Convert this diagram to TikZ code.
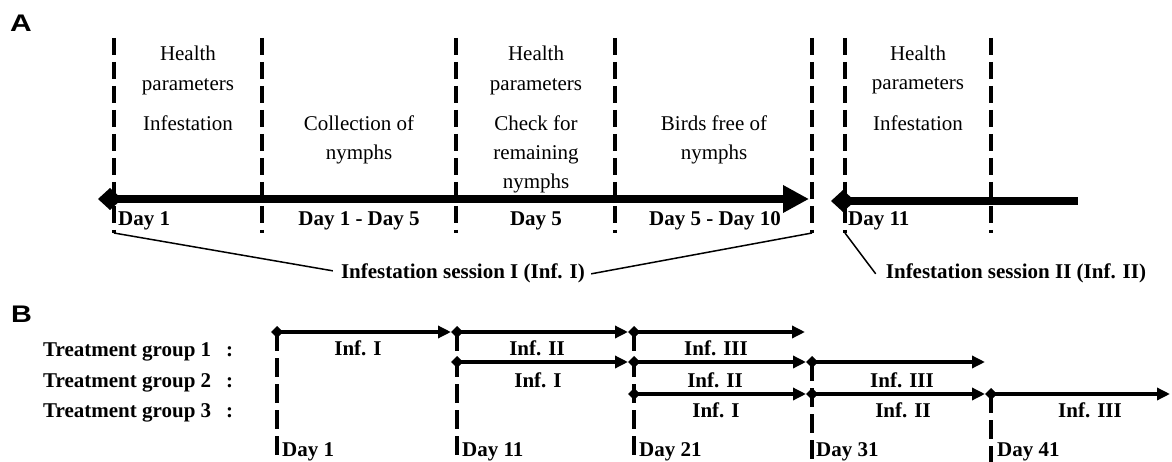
\documentclass[tikz,border=0pt]{standalone}
\usepackage{fontspec}
\setmainfont{Liberation Serif}
\newfontfamily\hvfont{Liberation Sans}
\usetikzlibrary{arrows.meta}
\begin{document}
\begin{tikzpicture}[x=1pt,y=-1pt,
  tx/.style={font=\fontsize{21}{25}\selectfont, inner sep=0pt, anchor=base},
  bt/.style={font=\fontsize{21}{25}\selectfont\bfseries, inner sep=0pt, anchor=base},
  btl/.style={bt, anchor=base west},
  panel/.style={font=\hvfont\bfseries\fontsize{24}{28}\selectfont, inner sep=0pt, anchor=base west},
  dashA/.style={line width=4pt, dash pattern=on 17pt off 7pt},
  dashB/.style={line width=4pt, dash pattern=on 19pt off 7pt},
  bigarrow/.style={line width=8pt, {Diamond[length=24pt,width=22pt]}-{Triangle[length=26pt,width=26pt]}},
  bigline/.style={line width=8pt, {Diamond[length=24pt,width=22pt]}-},
  barrow/.style={line width=3.5pt, {Diamond[length=12pt,width=12pt]}-{Triangle[length=13pt,width=12pt]}},
  thin/.style={line width=1.5pt}
]
\useasboundingbox (0,0) rectangle (1172,462);

% ---------------- Panel A ----------------
\node[panel] (labA) at (10,32) {\scalebox{1.25}[1]{A}};

% dashed separators
\foreach \n/\x in {1/114,2/262,3/456,4/615,5/812,6/845,7/991}{
  \coordinate (t\n) at (\x,38);
  \coordinate (b\n) at (\x,233);
  \draw[dashA] (t\n) -- (b\n);
}

% thick arrows
\coordinate (a1s) at (98,199);
\coordinate (a1e) at (809,199);
\draw[bigarrow] (a1s) -- (a1e);
\coordinate (a2s) at (831,201);
\coordinate (a2e) at (1078,201);
\draw[bigline] (a2s) -- (a2e);

% column texts
\node[tx] (c1a) at (188,61) {Health};
\node[tx] (c1b) at (188,91) {parameters};
\node[tx] (c1c) at (188,131) {Infestation};

\node[tx] (c2a) at (359,131) {Collection of};
\node[tx] (c2b) at (359,160) {nymphs};

\node[tx] (c3a) at (536,61) {Health};
\node[tx] (c3b) at (536,91) {parameters};
\node[tx] (c3c) at (536,131) {Check for};
\node[tx] (c3d) at (536,160) {remaining};
\node[tx] (c3e) at (536,189) {nymphs};

\node[tx] (c4a) at (714,131) {Birds free of};
\node[tx] (c4b) at (714,160) {nymphs};

\node[tx] (c6a) at (918,61) {Health};
\node[tx] (c6b) at (918,90) {parameters};
\node[tx] (c6c) at (918,131) {Infestation};

% day labels
\node[btl] (dA1) at (118,226) {Day 1};
\node[bt] (dA2) at (359,226) {Day 1 - Day 5};
\node[bt] (dA3) at (536,226) {Day 5};
\node[bt] (dA4) at (715,226) {Day 5 - Day 10};
\node[btl] (dA5) at (848,226) {Day 11};

% sessions
\node[bt] (s1) at (463,279) {Infestation session I (Inf. I)};
\node[bt] (s2) at (1016,279) {Infestation session II (Inf. II)};
\draw[thin] (b1) -- ([shift={(-8,-3)}]s1.west);
\draw[thin] ([xshift=6pt]s1.east) -- (b5);
\draw[thin] (b6) -- ([xshift=-10pt]s2.west);

% ---------------- Panel B ----------------
\node[panel] (labB) at (11,322) {\scalebox{1.2}[1]{B}};

\node[btl] (g1) at (43,356) {Treatment group 1\hspace*{15pt}:};
\node[btl] (g2) at (43,387) {Treatment group 2\hspace*{15pt}:};
\node[btl] (g3) at (43,417) {Treatment group 3\hspace*{15pt}:};

% dashed day lines
\coordinate (v1t) at (277,332); \coordinate (v1b) at (277,462);
\coordinate (v2t) at (457,332); \coordinate (v2b) at (457,462);
\coordinate (v3t) at (634,332); \coordinate (v3b) at (634,462);
\coordinate (v4t) at (812,362); \coordinate (v4b) at (812,462);
\coordinate (v5t) at (991,394); \coordinate (v5b) at (991,462);
\foreach \n in {1,...,5}{\draw[dashB] (v\n t) -- (v\n b);}

% arrow points
\coordinate (p11) at (271,332);
\coordinate (p12) at (451,332);
\coordinate (p13) at (628,332);
\coordinate (e1)  at (805,332);
\coordinate (p22) at (451,362);
\coordinate (p23) at (628,362);
\coordinate (p24) at (806,362);
\coordinate (e2)  at (985,362);
\coordinate (p33) at (628,394);
\coordinate (p34) at (806,394);
\coordinate (p35) at (985,394);
\coordinate (e3)  at (1170,394);

\draw[barrow] (p11) -- (p12);
\draw[barrow] (p12) -- (p13);
\draw[barrow] (p13) -- (e1);
\draw[barrow] (p22) -- (p23);
\draw[barrow] (p23) -- (p24);
\draw[barrow] (p24) -- (e2);
\draw[barrow] (p33) -- (p34);
\draw[barrow] (p34) -- (p35);
\draw[barrow] (p35) -- (e3);

% infestation labels
\node[bt] (l11) at (358,355) {Inf. I};
\node[bt] (l12) at (537,355) {Inf. II};
\node[bt] (l13) at (716,355) {Inf. III};
\node[bt] (l22) at (538,387) {Inf. I};
\node[bt] (l23) at (715,387) {Inf. II};
\node[bt] (l24) at (902,387) {Inf. III};
\node[bt] (l33) at (716,417) {Inf. I};
\node[bt] (l34) at (903,417) {Inf. II};
\node[bt] (l35) at (1090,417) {Inf. III};

% day labels
\node[btl] (dB1) at (282,456) {Day 1};
\node[btl] (dB2) at (462,456) {Day 11};
\node[btl] (dB3) at (639,456) {Day 21};
\node[btl] (dB4) at (816,456) {Day 31};
\node[btl] (dB5) at (997,456) {Day 41};
\end{tikzpicture}
\end{document}
